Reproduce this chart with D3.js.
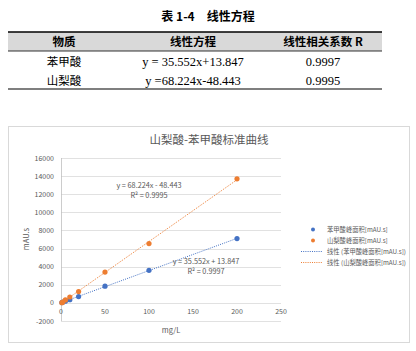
<!DOCTYPE html>
<html>
<meta charset="utf-8">
<style>
body { margin: 0; background: #fff; }
svg text { font-family: "Noto Sans CJK SC", "Noto Sans", sans-serif; }
.serif { font-family: "Liberation Serif", "Noto Sans CJK SC", serif !important; }
</style>
<body>
<svg id="svgelem" width="416" height="351"></svg>
<script src="https://d3js.org/d3.v7.min.js"></script>
<script>

// table data
var tableTitle = "表 1-4　线性方程";
var tableHeader = ["物质", "线性方程", "线性相关系数 R"];
var tableRows = [
    ["苯甲酸", "y = 35.552x+13.847", "0.9997"],
    ["山梨酸", "y =68.224x-48.443", "0.9995"]
];

// chart data
var conc = [1, 2, 5, 10, 20, 50, 100, 200];
var benzoic = [40, 80, 180, 350, 700, 1850, 3600, 7100];
var sorbic = [20, 100, 330, 650, 1250, 3400, 6550, 13700];
var fits = [
    {slope: 35.552, icpt: 13.847, eq: "y = 35.552x + 13.847", r2: "R² = 0.9997"},
    {slope: 68.224, icpt: -48.443, eq: "y = 68.224x - 48.443", r2: "R² = 0.9995"}
];
var legendNames = ["苯甲酸峰面积[mAU.s]", "山梨酸峰面积[mAU.s]",
    "线性 (苯甲酸峰面积[mAU.s])", "线性 (山梨酸峰面积[mAU.s])"];
var xTicks = [0, 50, 100, 150, 200, 250];
var yTicks = [-2000, 0, 2000, 4000, 6000, 8000, 10000, 12000, 14000, 16000];

var colors = ["#4472C4", "#ED7D31"];
var svg = d3.select("svg");

// ---- table ----
var colX = [64, 193, 323];
svg.append("text")
    .attr("x", 208).attr("y", 21)
    .attr("text-anchor", "middle")
    .style("font-size", "12px").style("font-weight", "bold")
    .text(tableTitle);

svg.append("rect").attr("x", 8).attr("y", 32).attr("width", 374).attr("height", 19).attr("fill", "#d9d9d9");
svg.append("line").attr("x1", 8).attr("x2", 382).attr("y1", 32).attr("y2", 32).attr("stroke", "#000").attr("stroke-width", 1.5);
svg.append("line").attr("x1", 8).attr("x2", 382).attr("y1", 51).attr("y2", 51).attr("stroke", "#000").attr("stroke-width", 0.8);
svg.append("line").attr("x1", 8).attr("x2", 382).attr("y1", 89).attr("y2", 89).attr("stroke", "#000").attr("stroke-width", 1.2);

tableHeader.forEach(function(h, i) {
    svg.append("text")
        .attr("x", colX[i]).attr("y", 46)
        .attr("text-anchor", "middle")
        .style("font-size", "11.5px").style("font-weight", "bold")
        .text(h);
});
tableRows.forEach(function(row, r) {
    row.forEach(function(c, i) {
        svg.append("text")
            .attr("class", i > 0 ? "serif" : null)
            .attr("x", colX[i]).attr("y", 66 + r * 19)
            .attr("text-anchor", "middle")
            .style("font-size", i > 0 ? "12.5px" : "11.5px")
            .text(c);
    });
});

// ---- chart ----
svg.append("rect")
    .attr("x", 8.5).attr("y", 126.5).attr("width", 401).attr("height", 216)
    .attr("fill", "#fff").attr("stroke", "#d9d9d9");

var x = d3.scaleLinear().domain([0, 250]).range([61, 281]);
var y = d3.scaleLinear().domain([-2000, 16000]).range([321, 158]);

svg.append("text")
    .attr("x", 209).attr("y", 144)
    .attr("text-anchor", "middle")
    .attr("fill", "#595959")
    .style("font-size", "11.5px")
    .text("山梨酸-苯甲酸标准曲线");

// gridlines
svg.append("g").selectAll("line")
    .data(yTicks)
    .join("line")
    .attr("x1", x(0)).attr("x2", x(250))
    .attr("y1", function(d) { return Math.round(y(d)) + 0.5; })
    .attr("y2", function(d) { return Math.round(y(d)) + 0.5; })
    .attr("stroke", "#d9d9d9").attr("stroke-width", 0.8);

svg.append("line")
    .attr("x1", x(0) + 0.5).attr("x2", x(0) + 0.5)
    .attr("y1", y(16000)).attr("y2", y(-2000))
    .attr("stroke", "#bfbfbf").attr("stroke-width", 0.8);

svg.append("g").selectAll("text")
    .data(yTicks)
    .join("text")
    .attr("x", 54).attr("y", function(d) { return y(d) + 2.5; })
    .attr("text-anchor", "end")
    .attr("fill", "#595959")
    .style("font-size", "7px")
    .text(function(d) { return d; });

svg.append("g").selectAll("text")
    .data(xTicks)
    .join("text")
    .attr("x", function(d) { return x(d); }).attr("y", 314)
    .attr("text-anchor", "middle")
    .attr("fill", "#595959")
    .style("font-size", "7px")
    .text(function(d) { return d; });

svg.append("text")
    .attr("x", 171).attr("y", 333)
    .attr("text-anchor", "middle")
    .attr("fill", "#595959")
    .style("font-size", "7.5px")
    .text("mg/L");

svg.append("text")
    .attr("transform", "translate(29,239) rotate(-90)")
    .attr("text-anchor", "middle")
    .attr("fill", "#595959")
    .style("font-size", "7.5px")
    .text("mAU.s");

// trendlines
fits.forEach(function(f, i) {
    svg.append("line")
        .attr("x1", x(0)).attr("y1", y(f.icpt))
        .attr("x2", x(200)).attr("y2", y(f.slope * 200 + f.icpt))
        .attr("stroke", colors[i]).attr("stroke-width", 1)
        .attr("stroke-dasharray", "1,1.2");
});

// points
[benzoic, sorbic].forEach(function(vals, i) {
    svg.append("g").selectAll("circle")
        .data(vals)
        .join("circle")
        .attr("cx", function(d, j) { return x(conc[j]); })
        .attr("cy", function(d) { return y(d); })
        .attr("r", 2.6)
        .attr("fill", colors[i]);
});

// equation labels
var labelPos = [[206, 264], [149, 188]];
fits.forEach(function(f, i) {
    svg.append("text")
        .attr("x", labelPos[i][0]).attr("y", labelPos[i][1])
        .attr("text-anchor", "middle")
        .attr("fill", "#595959")
        .style("font-size", "7.3px")
        .text(f.eq);
    svg.append("text")
        .attr("x", labelPos[i][0]).attr("y", labelPos[i][1] + 10)
        .attr("text-anchor", "middle")
        .attr("fill", "#595959")
        .style("font-size", "7.3px")
        .text(f.r2);
});

// legend
var legend = svg.append("g");
legendNames.forEach(function(name, i) {
    var ly = 229.5 + i * 11;
    if (i < 2) {
        legend.append("circle")
            .attr("cx", 313).attr("cy", ly).attr("r", 2)
            .attr("fill", colors[i]);
    } else {
        legend.append("line")
            .attr("x1", 301).attr("x2", 323)
            .attr("y1", ly).attr("y2", ly)
            .attr("stroke", colors[i - 2]).attr("stroke-width", 1)
            .attr("stroke-dasharray", "1,1.2");
    }
    legend.append("text")
        .attr("x", 327).attr("y", ly + 2)
        .attr("fill", "#595959")
        .style("font-size", "6.3px")
        .text(name);
});
</script>
</body>
</html>
